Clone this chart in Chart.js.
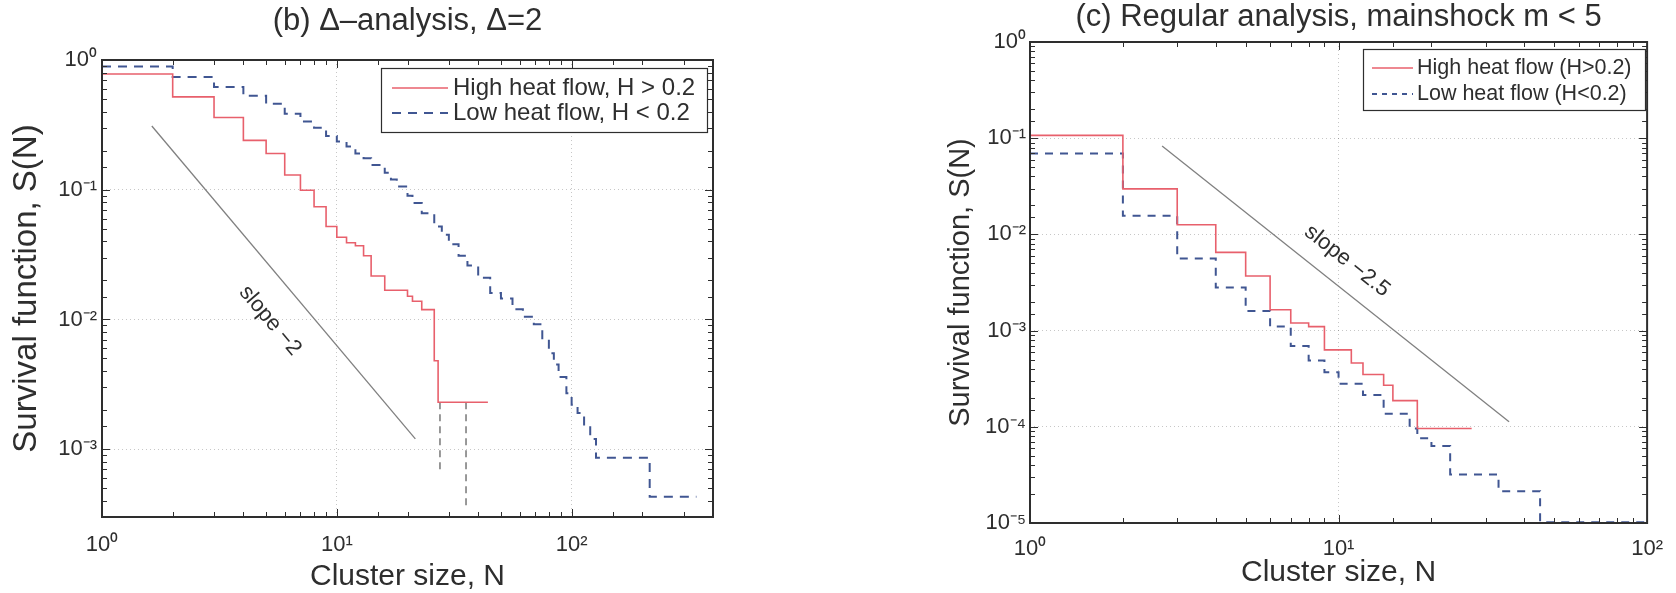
<!DOCTYPE html>
<html>
<head>
<meta charset="utf-8">
<script src="https://cdn.jsdelivr.net/npm/chart.js@4.4.1/dist/chart.umd.min.js"></script>
<style>
  html, body { margin: 0; padding: 0; background: #fff; }
  #wrap { position: relative; width: 1676px; height: 593px; overflow: hidden; }
  .panel { position: absolute; top: 0; }
  #panelB { left: 0; }
  #panelC { left: 860px; }
</style>
</head>
<body>
<div id="wrap">
  <div class="panel" id="panelB"><canvas id="chartB" width="760" height="593"></canvas></div>
  <div class="panel" id="panelC"><canvas id="chartC" width="816" height="593"></canvas></div>
</div>
<script>
// ---- panel (b): delta-analysis, delta = 2 ----
const highX_b = [1, 2, 3, 4, 5, 6, 7, 8, 9, 10, 11, 12, 13, 14, 16, 20, 21, 23, 26, 27, 44];
const highS_b = [0.78, 0.52, 0.36, 0.24, 0.19, 0.13, 0.099, 0.074, 0.052, 0.043, 0.039, 0.037, 0.031,
                 0.0216, 0.0168, 0.0151, 0.0138, 0.0119, 0.0048, 0.0023, 0.0023];
const lowX_b = [1, 2, 3, 4, 5, 6, 7, 8, 9, 10, 11, 12, 13, 14, 16, 17, 18, 20, 21, 23, 26, 28, 30,
                33, 36, 40, 45, 50, 56, 62, 69, 75, 80, 84, 88, 95, 100, 106, 113, 120, 127, 215, 340];
const lowS_b = [0.89, 0.74, 0.62, 0.53, 0.46, 0.385, 0.335, 0.30, 0.26, 0.235, 0.215, 0.19, 0.175,
                0.155, 0.135, 0.12, 0.106, 0.09, 0.079, 0.066, 0.052, 0.045, 0.038, 0.031, 0.026,
                0.021, 0.016, 0.0145, 0.012, 0.0105, 0.0092, 0.0070, 0.0055, 0.0045, 0.0036, 0.0027,
                0.0022, 0.0019, 0.0015, 0.0012, 0.00086, 0.00043, 0.00043];
const slopeX_b = [1.63, 21.6];
const slopeS_b = [0.31, 0.0012];
const tailX_b = [27.5, 27.5, 31, 35.5, 35.5];
const tailS_b = [0.0023, 0.00066, null, 0.0023, 0.00037];

// ---- panel (c): regular analysis, mainshock m < 5 ----
const highX_c = [1, 2, 3, 4, 5, 6, 7, 8, 9, 11, 12, 14, 15, 18, 27];
const highS_c = [0.107, 0.0297, 0.0126, 0.0065, 0.0037, 0.00165, 0.0012, 0.0011, 0.00063, 0.00046,
                 0.00035, 0.00027, 0.000187, 0.000096, 0.000096];
const lowX_c = [1, 2, 3, 4, 5, 6, 7, 8, 9, 10, 12, 14, 17, 18, 20, 23, 33, 45, 100];
const lowS_c = [0.0695, 0.0156, 0.0056, 0.0028, 0.0016, 0.0011, 0.00069, 0.00049, 0.00037, 0.00028,
                0.000214, 0.000137, 0.000096, 0.000076, 0.000063, 0.000032, 0.0000214, 0.0000102, 0.0000102];
const slopeX_c = [2.68, 35.7];
const slopeS_c = [0.083, 0.000113];

const FONT = "'Liberation Sans', Arial, Helvetica, sans-serif";
const INK = '#2e2e2e';
const RED = 'rgb(232, 96, 108)';
const BLUE = 'rgb(64, 86, 146)';

const SUP = { '0': '\u2070', '1': '\u00b9', '2': '\u00b2', '3': '\u00b3', '4': '\u2074', '5': '\u2075', '-': '\u207b' };

function isDecade(v) {
  const e = Math.log10(v);
  return Math.abs(e - Math.round(e)) < 1e-6;
}

function decadeLabel(v) {
  if (!isDecade(v)) return '';
  return '10' + String(Math.round(Math.log10(v))).split('').map(c => SUP[c]).join('');
}

function pts(xs, ys) {
  return xs.map((x, i) => ({ x: x, y: ys[i] }));
}

function logAxis(o) {
  return {
    type: 'logarithmic',
    position: o.position,
    min: o.min,
    max: o.max,
    border: { display: false, dash: [1, 3] },
    grid: {
      drawTicks: false,
      lineWidth: 1,
      color: ctx => (ctx.tick && isDecade(ctx.tick.value)) ? 'rgba(0,0,0,0.22)' : 'rgba(0,0,0,0)'
    },
    ticks: {
      autoSkip: false,
      maxRotation: 0,
      minRotation: 0,
      padding: o.tickPad,
      color: INK,
      font: { family: FONT, size: 22 },
      callback: v => decadeLabel(v)
    },
    title: {
      display: true,
      text: o.title,
      color: INK,
      font: { family: FONT, size: o.titleSize },
      padding: o.titlePad
    },
    afterFit: s => {
      if (o.width) s.width = o.width;
      if (o.height) s.height = o.height;
    }
  };
}

// frame, inward ticks, slope label and boxed legend
const panelDecor = {
  id: 'panelDecor',
  afterDatasetsDraw(chart, args, o) {
    const { ctx, chartArea: a, scales } = chart;
    ctx.save();

    ctx.strokeStyle = INK;
    ctx.lineWidth = 1;
    ctx.beginPath();
    scales.x.ticks.forEach(t => {
      const px = Math.round(scales.x.getPixelForValue(t.value)) + 0.5;
      const len = isDecade(t.value) ? 8 : 5;
      ctx.moveTo(px, a.bottom); ctx.lineTo(px, a.bottom - len);
      ctx.moveTo(px, a.top); ctx.lineTo(px, a.top + len);
    });
    scales.y.ticks.forEach(t => {
      const py = Math.round(scales.y.getPixelForValue(t.value)) + 0.5;
      const len = isDecade(t.value) ? 8 : 5;
      ctx.moveTo(a.left, py); ctx.lineTo(a.left + len, py);
      ctx.moveTo(a.right, py); ctx.lineTo(a.right - len, py);
    });
    ctx.stroke();

    ctx.lineWidth = 2;
    ctx.strokeRect(a.left, a.top, a.width, a.height);

    // rotated slope annotation, aligned with the reference line
    if (o.slope) {
      const meta = chart.getDatasetMeta(o.slope.dataset);
      const p0 = meta.data[0], p1 = meta.data[1];
      const ang = Math.atan2(p1.y - p0.y, p1.x - p0.x);
      ctx.save();
      ctx.translate(scales.x.getPixelForValue(o.slope.at[0]), scales.y.getPixelForValue(o.slope.at[1]));
      ctx.rotate(ang);
      ctx.fillStyle = INK;
      ctx.font = o.slope.size + 'px ' + FONT;
      ctx.textAlign = 'center';
      ctx.textBaseline = 'middle';
      ctx.fillText(o.slope.text, 0, 0);
      ctx.restore();
    }

    if (o.legend) {
      const L = o.legend;
      ctx.fillStyle = '#fff';
      ctx.fillRect(L.x, L.y, L.w, L.h);
      ctx.strokeStyle = INK;
      ctx.lineWidth = 1.2;
      ctx.strokeRect(L.x + 0.5, L.y + 0.5, L.w, L.h);
      ctx.font = L.size + 'px ' + FONT;
      ctx.textBaseline = 'middle';
      ctx.textAlign = 'left';
      const items = chart.data.datasets.filter(d => d.label);
      items.forEach((d, i) => {
        const yy = L.rows[i];
        ctx.strokeStyle = d.borderColor;
        ctx.lineWidth = d.borderWidth;
        ctx.setLineDash(L.dash[i]);
        ctx.beginPath();
        ctx.moveTo(L.lineX[0], yy);
        ctx.lineTo(L.lineX[1], yy);
        ctx.stroke();
        ctx.setLineDash([]);
        ctx.fillStyle = INK;
        ctx.fillText(d.label, L.textX, yy);
      });
    }
    ctx.restore();
  }
};

function titleOpts(text, padding) {
  return {
    display: true,
    text: text,
    fullSize: false,
    align: 'center',
    color: INK,
    font: { family: FONT, size: 31, weight: 'normal' },
    padding: padding
  };
}

new Chart(document.getElementById('chartB'), {
  type: 'line',
  data: {
    datasets: [
      { label: 'High heat flow, H > 0.2', data: pts(highX_b, highS_b), borderColor: RED, borderWidth: 1.6,
        stepped: 'before', pointRadius: 0 },
      { label: 'Low heat flow, H < 0.2', data: pts(lowX_b, lowS_b), borderColor: BLUE, borderWidth: 2,
        borderDash: [9, 7], stepped: 'before', pointRadius: 0 },
      { label: '', data: pts(slopeX_b, slopeS_b), borderColor: '#808080', borderWidth: 1.3, pointRadius: 0 },
      { label: '', data: pts(tailX_b, tailS_b), borderColor: '#555', borderWidth: 1.2, borderDash: [7, 5],
        pointRadius: 0 }
    ]
  },
  options: {
    responsive: false,
    animation: false,
    layout: { padding: { left: 0, top: 0, right: 47, bottom: 0 } },
    scales: {
      x: logAxis({ position: 'bottom', min: 1, max: 400, tickPad: 15, title: 'Cluster size, N', titleSize: 30,
                   titlePad: { top: 0, bottom: -2 }, height: 76 }),
      y: logAxis({ position: 'left', min: 3e-4, max: 1, tickPad: 5, title: 'Survival function, S(N)', titleSize: 33,
                   titlePad: { top: 7, bottom: 0 }, width: 102 })
    },
    plugins: {
      legend: { display: false },
      tooltip: { enabled: false },
      title: titleOpts('(b) \u0394\u2013analysis, \u0394=2', { top: 2.4, bottom: 20.4 }),
      panelDecor: {
        slope: { dataset: 2, text: 'slope \u22122', at: [5.2, 0.0098], size: 22 },
        legend: { x: 381, y: 68, w: 326, h: 64, rows: [88, 113], lineX: [392, 448], textX: 453,
                  size: 24, dash: [[], [9, 7]] }
      }
    }
  },
  plugins: [panelDecor]
});

new Chart(document.getElementById('chartC'), {
  type: 'line',
  data: {
    datasets: [
      { label: 'High heat flow (H>0.2)', data: pts(highX_c, highS_c), borderColor: RED, borderWidth: 1.6,
        stepped: 'before', pointRadius: 0 },
      { label: 'Low heat flow (H<0.2)', data: pts(lowX_c, lowS_c), borderColor: BLUE, borderWidth: 2,
        borderDash: [8, 7], stepped: 'before', pointRadius: 0 },
      { label: '', data: pts(slopeX_c, slopeS_c), borderColor: '#808080', borderWidth: 1.3, pointRadius: 0 }
    ]
  },
  options: {
    responsive: false,
    animation: false,
    layout: { padding: { left: 0, top: 0, right: 24, bottom: 0 } },
    scales: {
      x: logAxis({ position: 'bottom', min: 1, max: 100, tickPad: 13, title: 'Cluster size, N', titleSize: 30,
                   titlePad: { top: 0, bottom: 2 }, height: 70 }),
      y: logAxis({ position: 'left', min: 1e-5, max: 1, tickPad: 4, title: 'Survival function, S(N)', titleSize: 29,
                   titlePad: { top: 83.6, bottom: 0 }, width: 170 })
    },
    plugins: {
      legend: { display: false },
      tooltip: { enabled: false },
      title: titleOpts('(c) Regular analysis, mainshock m < 5', { top: -1.5, bottom: 6.3 }),
      panelDecor: {
        slope: { dataset: 2, text: 'slope \u22122.5', at: [10.66, 0.0053], size: 22 },
        legend: { x: 503, y: 49, w: 282, h: 61, rows: [68, 94], lineX: [512, 553], textX: 557,
                  size: 21.5, dash: [[], [5, 5]] }
      }
    }
  },
  plugins: [panelDecor]
});
</script>
</body>
</html>
